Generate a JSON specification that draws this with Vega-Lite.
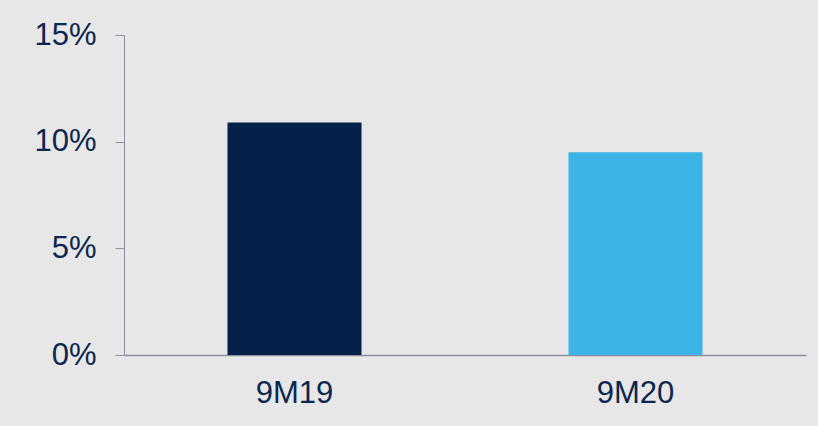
{
  "$schema": "https://vega.github.io/schema/vega-lite/v6.json",
  "autosize": {"type": "none"},
  "padding": {"left": 124, "top": 35, "right": 12, "bottom": 71},
  "width": 682,
  "height": 320,
  "background": "#e7e7e7",
  "config": {
    "view": {"stroke": null},
    "font": "Liberation Sans"
  },
  "data": {
    "values": [
      {"period": "9M19", "value": 0.109},
      {"period": "9M20", "value": 0.095}
    ]
  },
  "mark": {"type": "bar"},
  "encoding": {
    "x": {
      "field": "period",
      "type": "nominal",
      "sort": null,
      "scale": {"paddingInner": 0.607, "paddingOuter": 0.3035},
      "axis": {
        "title": null,
        "labelAngle": 0,
        "ticks": false,
        "labelPadding": 23,
        "labelFontSize": 31,
        "labelColor": "#0b2650",
        "domainColor": "#8e8e9e",
        "domainWidth": 1.5
      }
    },
    "y": {
      "field": "value",
      "type": "quantitative",
      "scale": {"domain": [0, 0.15], "nice": false},
      "axis": {
        "title": null,
        "values": [0, 0.05, 0.1, 0.15],
        "format": ".0%",
        "grid": false,
        "tickSize": 9,
        "tickColor": "#8e8e9e",
        "domainColor": "#8e8e9e",
        "labelPadding": 19,
        "labelFontSize": 31,
        "labelColor": "#0b2650"
      }
    },
    "color": {
      "field": "period",
      "type": "nominal",
      "scale": {"domain": ["9M19", "9M20"], "range": ["#042149", "#3db4e5"]},
      "legend": null
    }
  }
}
